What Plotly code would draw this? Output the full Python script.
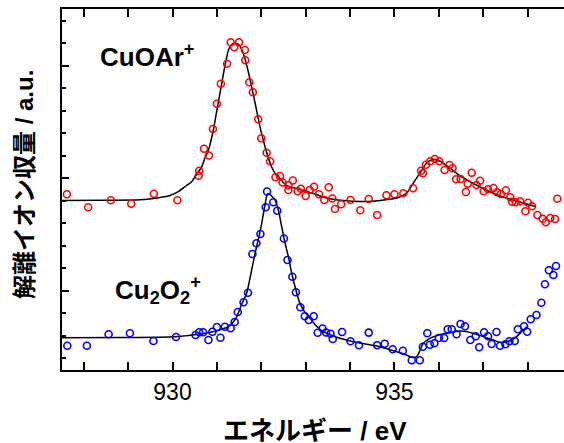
import plotly.graph_objects as go

# ---- data (photon energy in eV, ion yield in arbitrary units) ----
red_x = [927.62, 928.10, 928.61, 929.07, 929.58, 930.11, 930.59, 930.60, 930.71, 930.82,
         930.91, 931.00, 931.09, 931.23, 931.31, 931.39, 931.50, 931.63, 931.64, 931.73,
         931.81, 931.93, 932.00, 932.12, 932.20, 932.32, 932.42, 932.48, 932.61, 932.61,
         932.71, 932.82, 932.89, 933.00, 933.09, 933.19, 933.30, 933.42, 933.52, 933.60,
         933.66, 933.80, 934.01, 934.23, 934.42, 934.61, 934.82, 935.00, 935.20, 935.42,
         935.60, 935.64, 935.71, 935.81, 935.91, 936.01, 936.13, 936.24, 936.31, 936.39,
         936.49, 936.61, 936.65, 936.74, 936.85, 936.93, 937.01, 937.11, 937.23, 937.31,
         937.40, 937.51, 937.61, 937.65, 937.73, 937.83, 937.95, 938.01, 938.10, 938.22,
         938.34, 938.41, 938.51, 938.62, 938.67]
red_y = [175.7, 162.7, 169.7, 166.3, 176.3, 169.7, 194.3, 199.3, 221.3, 214.5,
         241.0, 266.3, 286.3, 306.3, 327.7, 322.7, 327.7, 320.0, 309.7, 287.7,
         277.7, 250.7, 231.7, 217.3, 208.7, 192.8, 194.0, 187.5, 184.7, 180.0,
         189.5, 178.7, 181.3, 174.0, 180.0, 183.3, 175.7, 170.0, 182.7, 171.5,
         161.0, 165.7, 170.0, 159.7, 171.0, 155.0, 174.8, 175.8, 176.7, 181.7,
         199.3, 196.7, 205.3, 208.7, 211.0, 208.7, 200.0, 205.0, 201.7, 190.7,
         191.0, 178.0, 186.3, 197.3, 185.0, 189.3, 178.7, 180.7, 182.0, 177.7,
         176.0, 179.7, 172.7, 168.3, 167.7, 168.7, 158.7, 167.3, 163.7, 155.0,
         151.3, 147.7, 152.0, 151.0, 171.3]

red_fit_x = [927.51, 928.37, 929.27, 929.61, 929.94, 930.13, 930.30, 930.43, 930.55, 930.66,
             930.73, 930.81, 930.92, 931.00, 931.11, 931.18, 931.26, 931.33, 931.41, 931.50,
             931.59, 931.67, 931.75, 931.86, 931.97, 932.08, 932.23, 932.33, 932.42, 932.57,
             932.87, 933.21, 933.47, 933.85, 934.22, 934.56, 934.85, 935.06, 935.27, 935.42,
             935.57, 935.72, 935.82, 935.91, 936.02, 936.10, 936.25, 936.40, 936.54, 936.70,
             936.93, 937.23, 937.44, 937.68, 937.94, 938.19]
red_fit_y = [169.5, 169.7, 170.2, 171.7, 174.5, 178.3, 184.0, 188.3, 196.0, 203.3,
             212.0, 220.0, 240.0, 260.0, 287.0, 304.0, 320.0, 325.5, 326.7, 325.0,
             317.0, 305.0, 290.0, 267.0, 243.3, 224.0, 203.3, 195.5, 191.5, 184.3,
             180.5, 176.0, 172.0, 169.5, 168.5, 169.0, 170.5, 172.0, 176.7, 186.7,
             196.7, 206.7, 209.7, 210.5, 209.0, 206.7, 202.0, 196.7, 192.5, 188.3,
             183.0, 176.7, 173.0, 170.0, 166.5, 163.3]

blue_x = [927.63, 928.07, 928.56, 929.04, 929.57, 930.08, 930.52, 930.60, 930.69, 930.81,
          930.90, 931.00, 931.08, 931.18, 931.31, 931.40, 931.47, 931.60, 931.70, 931.80,
          931.89, 931.98, 932.10, 932.13, 932.27, 932.36, 932.51, 932.59, 932.70, 932.78,
          932.88, 932.98, 933.07, 933.18, 933.27, 933.38, 933.46, 933.56, 933.61, 933.82,
          934.01, 934.20, 934.42, 934.61, 934.78, 934.96, 935.19, 935.39, 935.57, 935.64,
          935.74, 935.80, 935.90, 936.00, 936.12, 936.20, 936.29, 936.40, 936.49, 936.59,
          936.71, 936.83, 936.91, 937.02, 937.11, 937.19, 937.30, 937.38, 937.50, 937.59,
          937.71, 937.78, 937.92, 937.99, 938.07, 938.20, 938.31, 938.39, 938.48, 938.58,
          938.64]
blue_y = [24.3, 24.3, 35.7, 36.7, 29.0, 33.0, 35.0, 37.7, 37.7, 30.0,
          38.3, 43.0, 32.3, 43.3, 41.7, 48.0, 58.0, 67.7, 77.3, 116.0,
          126.7, 136.0, 162.7, 178.5, 167.7, 159.3, 131.5, 110.0, 93.2, 77.7,
          62.8, 53.8, 50.0, 53.8, 37.3, 41.5, 37.5, 36.3, 31.0, 38.0,
          28.8, 24.7, 37.4, 24.7, 26.3, 20.7, 19.3, 9.7, 9.7, 23.3,
          36.7, 25.3, 26.7, 32.0, 32.0, 40.7, 40.7, 35.7, 46.0, 43.7,
          30.0, 33.7, 22.7, 37.7, 33.7, 26.0, 38.0, 24.3, 25.7, 28.7,
          29.0, 40.7, 43.7, 38.3, 50.7, 55.0, 67.3, 85.7, 99.7, 95.0,
          104.0]

blue_fit_x = [927.51, 928.82, 930.06, 930.73, 931.02, 931.26, 931.36, 931.45, 931.55, 931.67,
              931.76, 931.86, 931.94, 932.01, 932.07, 932.13, 932.16, 932.22, 932.31, 932.39,
              932.46, 932.53, 932.61, 932.68, 932.76, 932.87, 932.98, 933.10, 933.23, 933.40,
              933.70, 934.07, 934.67, 935.05, 935.24, 935.39, 935.50, 935.56, 935.65, 935.80,
              935.96, 936.18, 936.48, 936.61, 936.77, 936.99, 937.23, 937.38, 937.53, 937.65,
              937.75, 937.86, 937.98]
blue_fit_y = [32.3, 32.5, 33.3, 36.7, 39.5, 43.3, 47.5, 53.3, 65.0, 76.7,
              95.0, 116.7, 132.0, 146.7, 162.0, 175.0, 176.5, 174.5, 170.0, 159.0,
              143.3, 128.0, 113.3, 98.0, 83.3, 66.7, 58.0, 51.7, 44.5, 38.3,
              32.7, 28.3, 23.3, 18.3, 15.5, 12.7, 13.3, 18.0, 26.7, 31.7,
              34.5, 36.7, 39.0, 38.5, 36.7, 33.5, 30.0, 27.5, 28.3, 30.5,
              33.3, 38.0, 43.3]

x_tick_vals = [928, 929, 930, 931, 932, 933, 934, 935, 936, 937, 938]
x_tick_text = ["", "", "930", "", "", "", "", "935", "", "", ""]
x_range = [927.51, 938.82]

LATIN = "Liberation Sans, Arial, Noto Sans CJK JP, sans-serif"
CJK = "Liberation Sans, Noto Sans CJK JP, sans-serif"

fig = go.Figure()

fig.add_trace(go.Scatter(x=red_fit_x, y=red_fit_y, mode="lines",
                         line=dict(color="black", width=1.5, shape="spline", smoothing=0.6),
                         hoverinfo="skip", showlegend=False))
fig.add_trace(go.Scatter(x=blue_fit_x, y=blue_fit_y, mode="lines",
                         line=dict(color="black", width=1.5, shape="spline", smoothing=0.6),
                         hoverinfo="skip", showlegend=False))
fig.add_trace(go.Scatter(x=red_x, y=red_y, mode="markers",
                         marker=dict(symbol="circle-open", size=7, color="#ff0000",
                                     line=dict(width=1.6, color="#ff0000")),
                         showlegend=False))
fig.add_trace(go.Scatter(x=blue_x, y=blue_y, mode="markers",
                         marker=dict(symbol="circle-open", size=7, color="#0000ff",
                                     line=dict(width=1.6, color="#0000ff")),
                         showlegend=False))

fig.update_layout(
    width=564, height=443,
    margin=dict(l=62, r=0, t=9, b=73),
    paper_bgcolor="white", plot_bgcolor="white",
    font=dict(family=LATIN, color="black"),
    xaxis=dict(
        range=x_range, showgrid=False, zeroline=False,
        showline=True, linecolor="black", linewidth=2, mirror="allticks",
        ticks="inside", ticklen=8, tickwidth=2, tickcolor="black",
        tickmode="array", tickvals=x_tick_vals, ticktext=x_tick_text,
        tickfont=dict(size=23, family=LATIN),
    ),
    yaxis=dict(
        range=[0, 361], showgrid=False, zeroline=False,
        showline=True, linecolor="black", linewidth=2, mirror=False,
        ticks="inside", ticklen=7, tickwidth=2, tickcolor="black",
        tickmode="linear", tick0=79.3, dtick=112.5, showticklabels=False,
        minor=dict(dtick=22.5, tick0=79.3, ticks="inside", ticklen=4, tickwidth=2,
                   tickcolor="black", showgrid=False),
    ),
    annotations=[
        dict(text="<b>CuOAr<sup>+</sup></b>", xref="paper", yref="paper",
             x=(98 - 62) / 502, y=(370 - 55) / 361, xanchor="left", yanchor="middle",
             showarrow=False, font=dict(size=26, family=LATIN)),
        dict(text="<b>Cu<sub>2</sub>O<sub>2</sub><sup>+</sup></b>", xref="paper", yref="paper",
             x=(113 - 62) / 502, y=(370 - 290) / 361, xanchor="left", yanchor="middle",
             showarrow=False, font=dict(size=26, family=LATIN)),
        dict(text="<b>解離イオン収量 / a.u.</b>", xref="paper", yref="paper",
             x=(24 - 62) / 502, y=(370 - 185) / 361, xanchor="center", yanchor="middle",
             textangle=-90, showarrow=False, font=dict(size=24, family=CJK)),
        dict(text="<b>エネルギー / eV</b>", xref="paper", yref="paper",
             x=(315 - 62) / 502, y=(370 - 431) / 361, xanchor="center", yanchor="middle",
             showarrow=False, font=dict(size=26, family=CJK)),
    ],
)

fig.write_html(
    "out.html",
    config={"displayModeBar": False},
    post_script="document.body.style.margin='0';document.body.style.padding='0';"
                "document.body.style.overflow='hidden';",
)
